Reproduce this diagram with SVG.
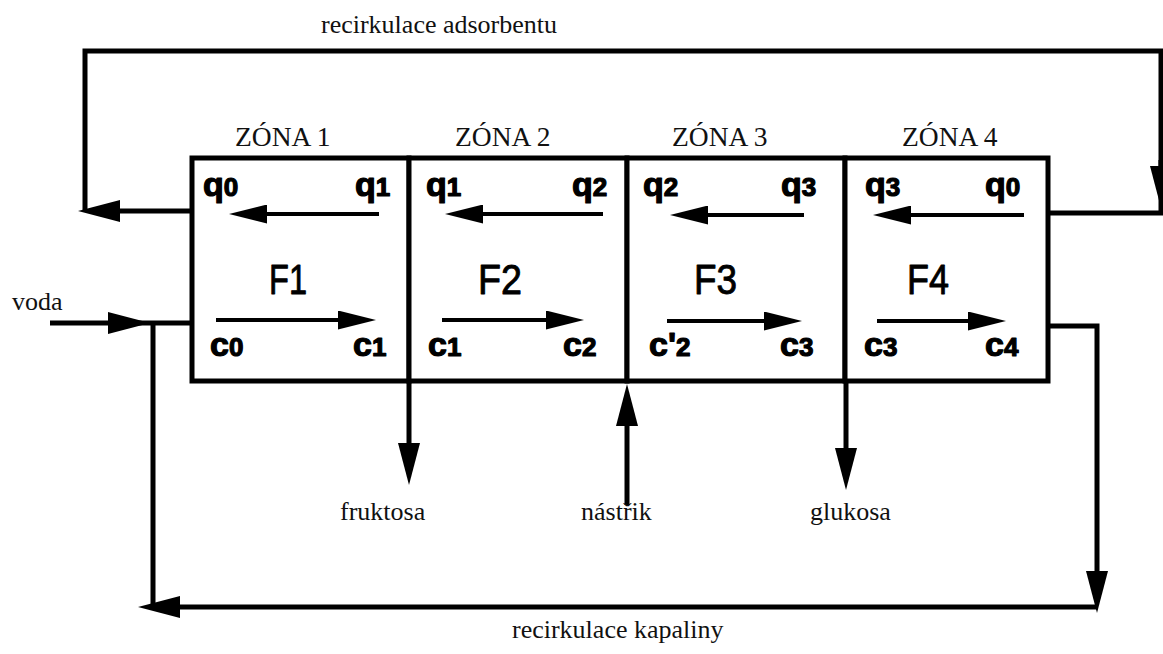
<svg xmlns="http://www.w3.org/2000/svg" width="1163" height="654" viewBox="0 0 1163 654">
  <style>
    .pipe { fill: none; stroke: #000; stroke-width: 5; stroke-linejoin: miter; }
    .flow { fill: none; stroke: #000; stroke-width: 4; }
    .zone { fill: #fff; stroke: #000; stroke-width: 5; }
    .serif { font-family: "Liberation Serif", "Times New Roman", serif; font-size: 26px; fill: #111; }
    .title { font-size: 27.5px; }
    .sym { font-family: "Liberation Sans", Arial, sans-serif; font-weight: bold; font-size: 34px; fill: #000; stroke: #000; stroke-width: 1.2; stroke-linejoin: round; }
    .sym tspan.d { font-size: 26px; }
    .big { font-family: "Liberation Sans", Arial, sans-serif; font-size: 42px; fill: #000; stroke: #000; stroke-width: 0.9; stroke-linejoin: round; }
  </style>
  <defs>
    <marker id="headThick" markerUnits="userSpaceOnUse" viewBox="0 0 42 22" markerWidth="42" markerHeight="22" refX="27" refY="11" orient="auto">
      <path d="M0,0 L42,11 L0,22 z" fill="#000"/>
    </marker>
    <marker id="headThin" markerUnits="userSpaceOnUse" viewBox="0 0 38 19" markerWidth="38" markerHeight="19" refX="26" refY="9.5" orient="auto">
      <path d="M0,0 L38,9.5 L0,19 z" fill="#000"/>
    </marker>
  </defs>

  <rect width="1163" height="654" fill="#fff"/>

  <!-- four-zone column -->
  <g id="zone1">
    <rect class="zone" x="192" y="158" width="217" height="223"/>
    <text class="serif title" x="235" y="146">ZÓNA 1</text>
    <text class="sym" x="203" y="196">q<tspan class="d">0</tspan></text>
    <text class="sym" x="355" y="196">q<tspan class="d">1</tspan></text>
    <text class="big" x="269" y="294" textLength="38" lengthAdjust="spacingAndGlyphs">F1</text>
    <text class="sym" x="210" y="356">c<tspan class="d">0</tspan></text>
    <text class="sym" x="353" y="356">c<tspan class="d">1</tspan></text>
  </g>
  <g id="zone2">
    <rect class="zone" x="409" y="158" width="218" height="223"/>
    <text class="serif title" x="455" y="146">ZÓNA 2</text>
    <text class="sym" x="426" y="196">q<tspan class="d">1</tspan></text>
    <text class="sym" x="572" y="196">q<tspan class="d">2</tspan></text>
    <text class="big" x="478" y="294" textLength="44" lengthAdjust="spacingAndGlyphs">F2</text>
    <text class="sym" x="428" y="356">c<tspan class="d">1</tspan></text>
    <text class="sym" x="563" y="356">c<tspan class="d">2</tspan></text>
  </g>
  <g id="zone3">
    <rect class="zone" x="627" y="158" width="218" height="223"/>
    <text class="serif title" x="672" y="146">ZÓNA 3</text>
    <text class="sym" x="643" y="196">q<tspan class="d">2</tspan></text>
    <text class="sym" x="781" y="196">q<tspan class="d">3</tspan></text>
    <text class="big" x="694" y="294" textLength="43" lengthAdjust="spacingAndGlyphs">F3</text>
    <text class="sym" x="649" y="356">c'<tspan class="d">2</tspan></text>
    <text class="sym" x="780" y="356">c<tspan class="d">3</tspan></text>
  </g>
  <g id="zone4">
    <rect class="zone" x="845" y="158" width="203" height="223"/>
    <text class="serif title" x="902" y="146">ZÓNA 4</text>
    <text class="sym" x="865" y="196">q<tspan class="d">3</tspan></text>
    <text class="sym" x="985" y="196">q<tspan class="d">0</tspan></text>
    <text class="big" x="907" y="294" textLength="42" lengthAdjust="spacingAndGlyphs">F4</text>
    <text class="sym" x="864" y="356">c<tspan class="d">3</tspan></text>
    <text class="sym" x="985" y="356">c<tspan class="d">4</tspan></text>
  </g>

  <!-- internal flows: solid phase leftwards, liquid rightwards -->
  <g id="internal-flows">
    <path class="flow" d="M379,214 H241" marker-end="url(#headThin)"/>
    <path class="flow" d="M216,320 H364" marker-end="url(#headThin)"/>
    <path class="flow" d="M603,214 H457" marker-end="url(#headThin)"/>
    <path class="flow" d="M442,320 H572" marker-end="url(#headThin)"/>
    <path class="flow" d="M804,215 H682" marker-end="url(#headThin)"/>
    <path class="flow" d="M667,321 H790" marker-end="url(#headThin)"/>
    <path class="flow" d="M1024,215 H885" marker-end="url(#headThin)"/>
    <path class="flow" d="M877,321 H994" marker-end="url(#headThin)"/>
  </g>

  <!-- external streams -->
  <g id="connectors">
    <!-- adsorbent recycle loop -->
    <path class="pipe" d="M192,211 H93" marker-end="url(#headThick)"/>
    <path class="pipe" d="M85,211 V51 H1161 V213 H1048"/>
    <path class="pipe" d="M1161,160 V193" marker-end="url(#headThick)"/>
    <!-- water feed -->
    <path class="pipe" d="M50,323 H135" marker-end="url(#headThick)"/>
    <path class="pipe" d="M135,323 H192"/>
    <path class="pipe" d="M153,323 V607"/>
    <!-- liquid recycle -->
    <path class="pipe" d="M1048,326 H1097 V598" marker-end="url(#headThick)"/>
    <path class="pipe" d="M1097,607 H153" marker-end="url(#headThick)"/>
    <!-- product outlets and feed -->
    <path class="pipe" d="M409,381 V470" marker-end="url(#headThick)"/>
    <path class="pipe" d="M846,381 V475" marker-end="url(#headThick)"/>
    <path class="pipe" d="M627,505 V399" marker-end="url(#headThick)"/>
  </g>

  <g id="labels">
    <text class="serif" x="321" y="33">recirkulace adsorbentu</text>
    <text class="serif" x="12" y="310">voda</text>
    <text class="serif" x="340" y="520">fruktosa</text>
    <text class="serif" x="581" y="520">nástřik</text>
    <text class="serif" x="810" y="520">glukosa</text>
    <text class="serif" x="512" y="638">recirkulace kapaliny</text>
  </g>
</svg>
